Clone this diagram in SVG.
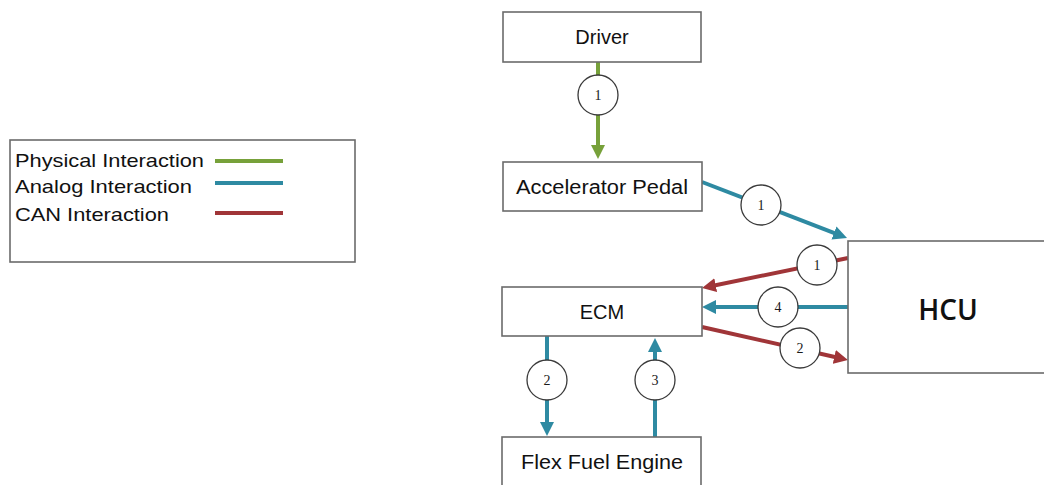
<svg xmlns="http://www.w3.org/2000/svg" width="1044" height="485" viewBox="0 0 1044 485">
<style>
.box{fill:#fff;stroke:#6b6b6b;stroke-width:1.6}
.lbl{font-family:"Liberation Sans",Arial,sans-serif;font-size:20px;fill:#111;text-anchor:middle}
.leg{font-family:"Liberation Sans",Arial,sans-serif;font-size:19px;fill:#111}
.num{font-family:"Liberation Serif","Times New Roman",serif;font-size:14px;fill:#1a1a1a;text-anchor:middle}
.badge{fill:#fff;stroke:#3a3a3a;stroke-width:1.3}
.g{stroke:#77a13a;stroke-width:4;fill:none}
.b{stroke:#2e8aa2;stroke-width:4;fill:none}
.r{stroke:#a03538;stroke-width:4;fill:none}
</style>
<defs>
<marker id="ag" viewBox="0 0 14 14" markerWidth="14" markerHeight="14" markerUnits="userSpaceOnUse" refX="4" refY="7" orient="auto"><path d="M0,0 L14,7 L0,14 z" fill="#77a13a"/></marker>
<marker id="ab" viewBox="0 0 14 14" markerWidth="14" markerHeight="14" markerUnits="userSpaceOnUse" refX="4" refY="7" orient="auto"><path d="M0,0 L14,7 L0,14 z" fill="#2e8aa2"/></marker>
<marker id="ar" viewBox="0 0 14 14" markerWidth="14" markerHeight="14" markerUnits="userSpaceOnUse" refX="4" refY="7" orient="auto"><path d="M0,0 L14,7 L0,14 z" fill="#a03538"/></marker>
</defs>
<rect width="1044" height="485" fill="#fff"/>

<g id="legend">
<rect x="10" y="140" width="345" height="122" class="box" stroke="#555"/>
<text class="leg" x="15" y="167" textLength="189" lengthAdjust="spacingAndGlyphs">Physical Interaction</text>
<text class="leg" x="15" y="193" textLength="177" lengthAdjust="spacingAndGlyphs">Analog Interaction</text>
<text class="leg" x="15" y="221" textLength="154" lengthAdjust="spacingAndGlyphs">CAN Interaction</text>
<line x1="215" y1="161" x2="283" y2="161" class="g"/>
<line x1="215" y1="183" x2="283" y2="183" class="b"/>
<line x1="215" y1="213" x2="283" y2="213" class="r"/>
</g>

<g id="connectors">
<line x1="598" y1="62" x2="598" y2="149" class="g" marker-end="url(#ag)"/>
<line x1="702" y1="182" x2="837.7" y2="234.4" class="b" marker-end="url(#ab)"/>
<line x1="848" y1="258" x2="711.8" y2="286" class="r" marker-end="url(#ar)"/>
<line x1="848" y1="307" x2="712" y2="307" class="b" marker-end="url(#ab)"/>
<line x1="702" y1="327" x2="838.2" y2="357.8" class="r" marker-end="url(#ar)"/>
<line x1="547" y1="336" x2="547" y2="426" class="b" marker-end="url(#ab)"/>
<line x1="655" y1="437" x2="655" y2="348" class="b" marker-end="url(#ab)"/>
<circle cx="598" cy="95" r="20" class="badge"/><text class="num" x="598" y="100">1</text>
<circle cx="761" cy="205" r="20" class="badge"/><text class="num" x="761" y="210">1</text>
<circle cx="817" cy="265" r="20" class="badge"/><text class="num" x="817" y="270">1</text>
<circle cx="778" cy="307" r="20" class="badge"/><text class="num" x="778" y="312">4</text>
<circle cx="800" cy="348" r="20" class="badge"/><text class="num" x="800" y="353">2</text>
<circle cx="547" cy="380" r="20" class="badge"/><text class="num" x="547" y="385">2</text>
<circle cx="655" cy="380" r="20" class="badge"/><text class="num" x="655" y="385">3</text>
</g>

<g id="driver">
<rect x="503" y="12" width="198" height="50" class="box"/>
<text class="lbl" x="602" y="44">Driver</text>
</g>
<g id="accelerator-pedal">
<rect x="503" y="162" width="199" height="49" class="box"/>
<text class="lbl" x="602" y="194" textLength="172" lengthAdjust="spacingAndGlyphs">Accelerator Pedal</text>
</g>
<g id="ecm">
<rect x="502" y="287" width="200" height="49" class="box"/>
<text class="lbl" x="602" y="319">ECM</text>
</g>
<g id="flex-fuel-engine">
<rect x="502" y="437" width="199" height="60" class="box"/>
<text class="lbl" x="602" y="469" textLength="162" lengthAdjust="spacingAndGlyphs">Flex Fuel Engine</text>
</g>
<g id="hcu">
<rect x="848" y="241" width="210" height="132" class="box" stroke="#333"/>
<text x="948" y="320" font-family="'Open Sans','Noto Sans',sans-serif" font-size="28" font-weight="600" fill="#111" text-anchor="middle">HCU</text>
</g>
</svg>
